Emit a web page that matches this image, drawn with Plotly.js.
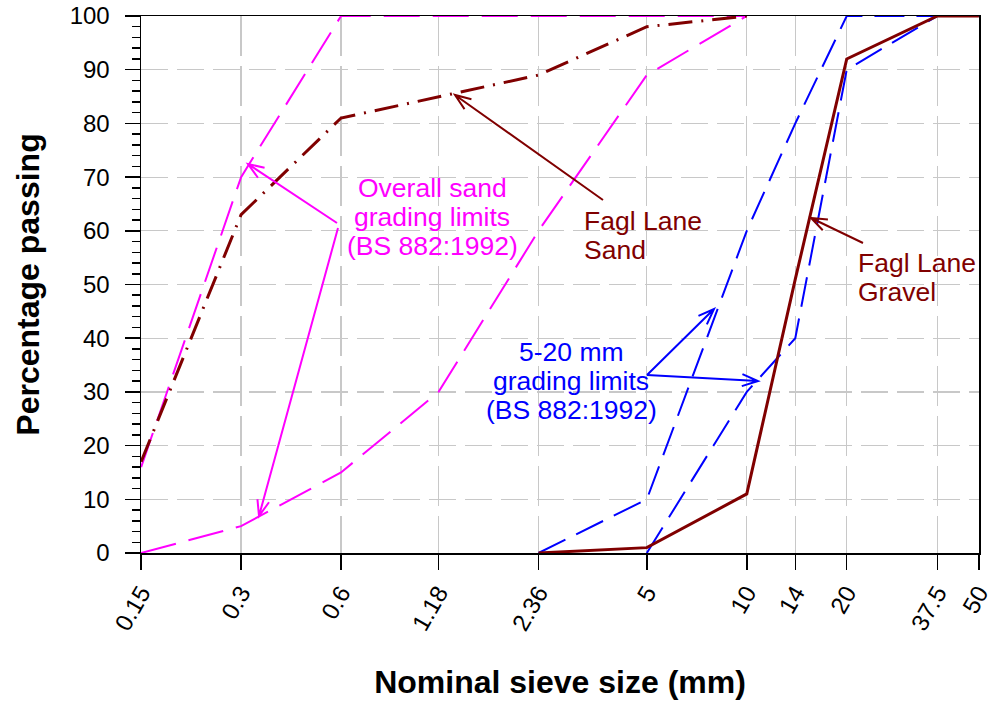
<!DOCTYPE html>
<html>
<head>
<meta charset="utf-8">
<script src="https://cdn.plot.ly/plotly-3.0.1.min.js"></script>
<style>html,body{margin:0;padding:0;background:#fff;}#chart{width:990px;height:702px;}</style>
</head>
<body>
<div id="chart"></div>
<script>
// ---- Data ----
const sieveSizes = [0.15, 0.3, 0.6, 1.18, 2.36, 5, 10, 14, 20, 37.5, 50];
const sieveLabels = ["0.15", "0.3", "0.6", "1.18", "2.36", "5", "10", "14", "20", "37.5", "50"];

const sandSieves = [0.15, 0.3, 0.6, 1.18, 2.36, 5, 10];
const sandUpperLimit = [16, 70, 100, 100, 100, 100, 100];
const sandLowerLimit = [0, 5, 15, 30, 60, 89, 100];
const faglSand = [17, 63, 81, 85, 89, 98, 100];

const gravelUpperSieves = [2.36, 5, 10, 14, 20, 37.5, 50];
const gravelUpperLimit = [0, 10, 60, 80, 100, 100, 100];
const gravelLowerSieves = [5, 10, 14, 20, 37.5, 50];
const gravelLowerLimit = [0, 30, 40, 90, 100, 100];
const faglGravelSieves = [2.36, 5, 10, 14, 20, 37.5, 50];
const faglGravel = [0, 1, 11, 51, 92, 100, 100];

// ---- Colours ----
const MAGENTA = "#FF00FF", MAROON = "#800000", BLUE = "#0000FF";
const FONT = "Liberation Sans, Arial, sans-serif";

const traces = [
  {x: sandSieves, y: sandUpperLimit, mode: "lines", line: {color: MAGENTA, width: 2, dash: "36px,13px"}},
  {x: sandSieves, y: sandLowerLimit, mode: "lines", line: {color: MAGENTA, width: 2, dash: "36px,13px"}},
  {x: gravelUpperSieves, y: gravelUpperLimit, mode: "lines", line: {color: BLUE, width: 2, dash: "30px,12px"}},
  {x: gravelLowerSieves, y: gravelLowerLimit, mode: "lines", line: {color: BLUE, width: 2, dash: "30px,12px"}},
  {x: sandSieves, y: faglSand, mode: "lines", line: {color: MAROON, width: 3, dash: "24px,9px,2px,9px"}},
  {x: faglGravelSieves, y: faglGravel, mode: "lines", line: {color: MAROON, width: 3}}
];

// ---- Layout helpers (pixel -> paper) ----
const ML = 141, MT = 16, MR = 11, MB = 149, FW = 990, FH = 702;
const PW = FW - ML - MR, PH = FH - MT - MB;
const px = v => (v - ML) / PW;
const py = v => (FH - MB - v) / PH;

function arrow(x0, y0, x1, y1, color) {
  const ang = Math.atan2(y0 - y1, x0 - x1);
  const len = 17, spread = 0.36;
  const h1 = [x1 + len * Math.cos(ang + spread), y1 + len * Math.sin(ang + spread)];
  const h2 = [x1 + len * Math.cos(ang - spread), y1 + len * Math.sin(ang - spread)];
  const f = (a, b) => px(a).toFixed(5) + "," + py(b).toFixed(5);
  return {
    type: "path", xref: "paper", yref: "paper",
    path: "M" + f(x0, y0) + " L" + f(x1, y1) + " M" + f(h1[0], h1[1]) + " L" + f(x1, y1) + " L" + f(h2[0], h2[1]),
    line: {color: color, width: 2}
  };
}

function label(text, x, y, color, align) {
  return {
    text: text, xref: "paper", yref: "paper", x: px(x), y: py(y),
    xanchor: align, yanchor: "middle", showarrow: false,
    font: {family: FONT, size: 26.5, color: color}
  };
}

const annotations = [
  label("Overall sand", 432, 188, MAGENTA, "center"),
  label("grading limits", 432, 217, MAGENTA, "center"),
  label("(BS 882:1992)", 432, 246, MAGENTA, "center"),
  label("Fagl Lane", 582, 221, MAROON, "left"),
  label("Sand", 582, 250, MAROON, "left"),
  label("Fagl Lane", 856, 263, MAROON, "left"),
  label("Gravel", 856, 292, MAROON, "left"),
  label("5-20 mm", 571, 352, BLUE, "center"),
  label("grading limits", 571, 381, BLUE, "center"),
  label("(BS 882:1992)", 571, 410, BLUE, "center")
];

const shapes = [
  arrow(337, 223, 248, 164, MAGENTA),
  arrow(338, 228, 259, 516, MAGENTA),
  arrow(603, 200, 455, 95, MAROON),
  arrow(863, 243, 811, 218, MAROON),
  arrow(647, 375, 714, 309, BLUE),
  arrow(647, 375, 758, 381, BLUE)
];

const layout = {
  width: FW, height: FH,
  margin: {l: ML, r: MR, t: MT, b: MB, pad: 0},
  paper_bgcolor: "#ffffff", plot_bgcolor: "#ffffff",
  showlegend: false,
  font: {family: FONT, color: "#000"},
  xaxis: {
    type: "log",
    range: [Math.log10(0.15) - 0.0004, Math.log10(50) + 0.0004],
    tickmode: "array", tickvals: sieveSizes, ticktext: sieveLabels,
    tickangle: -60, tickfont: {family: FONT, size: 24, color: "#000"},
    ticklabeloverflow: "allow",
    ticks: "outside", ticklen: 15, tickwidth: 1.5, tickcolor: "#000",
    showline: true, mirror: true, linecolor: "#000", linewidth: 1.5,
    showgrid: true, gridcolor: "#c8c8c8", gridwidth: 1.2, griddash: "40px,10px",
    zeroline: false, automargin: false,
    title: {text: "Nominal sieve size (mm)", font: {family: FONT, size: 32, color: "#000", weight: "bold"}, standoff: 36}
  },
  yaxis: {
    range: [0, 100], dtick: 10, tick0: 0,
    tickfont: {family: FONT, size: 24, color: "#000"},
    ticks: "outside", ticklen: 15, tickwidth: 1.5, tickcolor: "#000",
    ticklabelstandoff: 10,
    minor: {dtick: 2, ticks: "outside", ticklen: 8, tickwidth: 1.5, tickcolor: "#000", showgrid: false},
    showline: true, mirror: true, linecolor: "#000", linewidth: 1.5,
    showgrid: true, gridcolor: "#c8c8c8", gridwidth: 1.2, griddash: "27px,9px",
    zeroline: false, automargin: false,
    title: {text: "Percentage passing", font: {family: FONT, size: 32, color: "#000", weight: "bold"}, standoff: 20}
  },
  annotations: annotations,
  shapes: shapes
};

Plotly.newPlot("chart", traces, layout, {displayModeBar: false, staticPlot: true});
</script>
</body>
</html>
